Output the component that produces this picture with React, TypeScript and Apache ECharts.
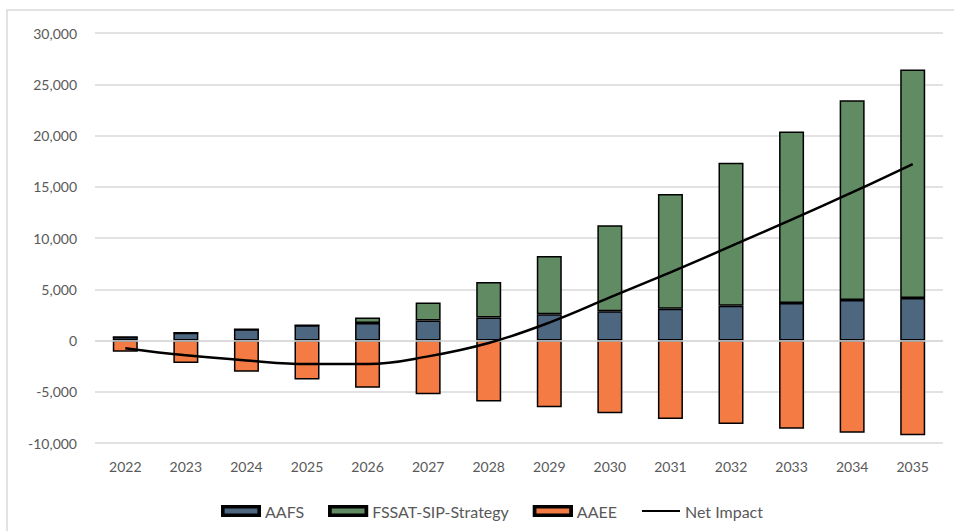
import React, { useEffect, useRef } from "react";
import * as echarts from "echarts";

const years = ["2022", "2023", "2024", "2025", "2026", "2027", "2028", "2029", "2030", "2031", "2032", "2033", "2034", "2035"];
const aafs = [350, 750, 1100, 1500, 1700, 1950, 2250, 2550, 2850, 3100, 3400, 3650, 3950, 4150];
const fssat = [0, 0, 0, 0, 550, 1750, 3450, 5700, 8400, 11200, 13950, 16750, 19500, 22300];
const aaee = [-1100, -2200, -3050, -3800, -4600, -5250, -5950, -6500, -7100, -7650, -8150, -8600, -9000, -9250];
const netImpact = [-750, -1450, -1950, -2300, -2300, -1550, -250, 1750, 4200, 6650, 9200, 11800, 14450, 17200];

const FONT = "Lato, 'Open Sans', sans-serif";
const TEXT = "#595959";
const C_AAFS = "#4E6781";
const C_FSSAT = "#618B62";
const C_AAEE = "#F47B43";
const FRAME_ICON = "path://M0,0H38V10H0Z M1.6,1.6V8.4H36.4V1.6Z";

export default function App() {
  const ref = useRef<HTMLDivElement>(null);
  useEffect(() => {
    if (!ref.current) return;
    const chart = echarts.init(ref.current, undefined, { renderer: "svg" });
    const barBase = {
      type: "bar" as const,
      stack: "total",
      barWidth: 25,
      itemStyle: { borderColor: "#000", borderWidth: 1.5 },
    };
    const legendCommon = {
      left: 216,
      top: 498,
      itemWidth: 38,
      itemHeight: 10,
      itemGap: 24,
      textStyle: { color: TEXT, fontSize: 16, fontFamily: FONT },
    };
    chart.setOption({
      animation: false,
      backgroundColor: "#fff",
      textStyle: { fontFamily: FONT },
      graphic: [
        {
          type: "rect",
          shape: { x: 7, y: 10, width: 960, height: 540 },
          style: { fill: "none", stroke: "#D9D9D9", lineWidth: 1.5 },
          silent: true,
          z: -1,
        },
      ],
      grid: { left: 95, right: 11, top: 33, bottom: 88 },
      legend: [
        {
          ...legendCommon,
          data: [
            { name: "AAFS", icon: "rect", itemStyle: { color: C_AAFS } },
            { name: "FSSAT-SIP-Strategy", icon: "rect", itemStyle: { color: C_FSSAT } },
            { name: "AAEE", icon: "rect", itemStyle: { color: C_AAEE } },
            { name: "Net Impact", itemStyle: { opacity: 0 } },
          ],
        },
        {
          ...legendCommon,
          z: 5,
          textStyle: { ...legendCommon.textStyle, color: "rgba(0,0,0,0)" },
          data: [
            { name: "AAFS", icon: FRAME_ICON, itemStyle: { color: "#000" } },
            { name: "FSSAT-SIP-Strategy", icon: FRAME_ICON, itemStyle: { color: "#000" } },
            { name: "AAEE", icon: FRAME_ICON, itemStyle: { color: "#000" } },
            { name: "Net Impact", icon: FRAME_ICON, itemStyle: { opacity: 0 } },
          ],
        },
      ],
      xAxis: {
        type: "category",
        data: years,
        axisLine: { show: false },
        axisTick: { show: false },
        axisLabel: { color: TEXT, fontSize: 14, fontFamily: FONT, margin: 16 },
      },
      yAxis: {
        type: "value",
        min: -10000,
        max: 30000,
        interval: 5000,
        axisLine: { show: false },
        axisTick: { show: false },
        splitLine: { lineStyle: { color: "#D9D9D9", width: 1.5 } },
        axisLabel: {
          color: TEXT,
          fontSize: 14,
          fontFamily: FONT,
          margin: 18,
          formatter: (v: number) => v.toLocaleString("en-US"),
        },
      },
      series: [
        {
          ...barBase,
          name: "AAFS",
          data: aafs,
          itemStyle: { ...barBase.itemStyle, color: C_AAFS },
        },
        {
          ...barBase,
          name: "FSSAT-SIP-Strategy",
          data: fssat,
          itemStyle: { ...barBase.itemStyle, color: C_FSSAT },
        },
        {
          ...barBase,
          name: "AAEE",
          data: aaee,
          itemStyle: { ...barBase.itemStyle, color: C_AAEE },
          markLine: {
            silent: true,
            symbol: "none",
            label: { show: false },
            lineStyle: { color: "#D9D9D9", width: 1.5, type: "solid" },
            data: [{ yAxis: 0 }],
          },
        },
        {
          name: "Net Impact",
          type: "line",
          data: netImpact,
          smooth: 0.4,
          symbol: "none",
          z: 10,
          lineStyle: { color: "#000", width: 2.5 },
          itemStyle: { color: "#000" },
        },
      ],
    });
    return () => chart.dispose();
  }, []);
  return (
    <div
      ref={ref}
      style={{ position: "absolute", left: 0, top: 0, width: 954, height: 531 }}
    />
  );
}
